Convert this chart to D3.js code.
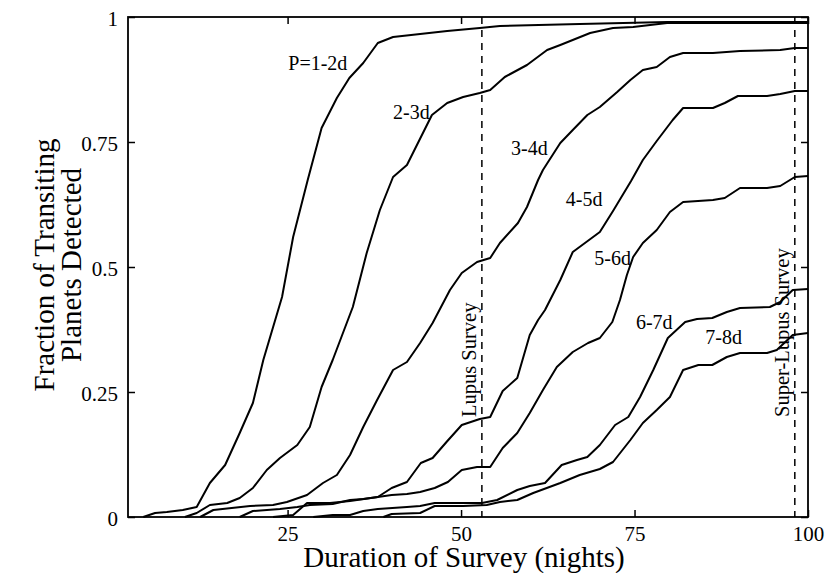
<!DOCTYPE html>
<html>
<head>
<meta charset="utf-8">
<script src="https://cdn.jsdelivr.net/npm/d3@7/dist/d3.min.js"></script>
<style>
body { margin: 0; background: #fff; }
svg text { font-family: "Liberation Serif", "Times New Roman", serif; fill: #000; }
</style>
</head>
<body>
<script>
// canvas and plot box (plotTop, not "top": that one is window.top)
var w = 830;
var h = 573;
var plotLeft = 128, plotRight = 808, plotTop = 17, plotBottom = 517;

// ---- data ----
var periodLabels = ["P=1-2d", "2-3d", "3-4d", "4-5d", "5-6d", "6-7d", "7-8d"];

var nights12 = [4.2, 5.9, 7.6, 9.9, 11.9, 13.8, 16.0, 18.1, 20.0, 21.5, 24.2, 25.8, 27.9, 29.9, 32.1, 33.9, 35.9, 38.0, 40.2, 44.1, 48.0, 52.7, 55.6, 67.1, 79.7, 100];
var frac12   = [0, 0.008, 0.010, 0.014, 0.020, 0.068, 0.104, 0.168, 0.228, 0.314, 0.440, 0.560, 0.674, 0.778, 0.838, 0.878, 0.908, 0.948, 0.960, 0.966, 0.972, 0.978, 0.982, 0.986, 0.990, 0.990];

var nights23 = [10.2, 11.9, 13.8, 16.3, 18.1, 20.0, 22.0, 23.9, 26.4, 28.2, 29.9, 31.5, 34.4, 36.4, 38.3, 40.2, 42.2, 45.8, 48.0, 50.3, 52.7, 54.2, 56.3, 59.5, 62.4, 64.3, 68.6, 71.9, 74.8, 79.7, 100];
var frac23   = [0, 0.008, 0.024, 0.028, 0.038, 0.058, 0.094, 0.118, 0.144, 0.180, 0.260, 0.314, 0.420, 0.528, 0.614, 0.680, 0.704, 0.804, 0.828, 0.840, 0.848, 0.854, 0.880, 0.904, 0.934, 0.944, 0.968, 0.978, 0.980, 0.988, 0.988];

var nights34 = [12.4, 14.3, 19.6, 22.9, 24.9, 27.8, 30.1, 32.1, 34.0, 35.9, 37.9, 40.2, 42.2, 44.1, 45.9, 48.4, 50.1, 52.3, 54.2, 55.6, 58.2, 59.5, 61.1, 61.8, 64.3, 66.1, 68.2, 70.0, 72.5, 74.4, 76.2, 78.2, 80.1, 82.0, 86.3, 90.2, 96.0, 98.1, 100];
var frac34   = [0, 0.014, 0.022, 0.024, 0.030, 0.044, 0.068, 0.084, 0.124, 0.180, 0.234, 0.294, 0.310, 0.348, 0.388, 0.454, 0.488, 0.510, 0.518, 0.548, 0.588, 0.620, 0.674, 0.694, 0.748, 0.774, 0.804, 0.820, 0.850, 0.874, 0.894, 0.900, 0.920, 0.928, 0.928, 0.932, 0.934, 0.938, 0.938];

var nights45 = [18.1, 20.0, 23.9, 26.4, 28.2, 31.5, 34.0, 35.9, 38.0, 40.0, 42.2, 44.2, 45.9, 47.9, 50.1, 52.7, 54.2, 56.0, 58.1, 59.9, 61.1, 62.1, 64.3, 66.1, 70.0, 71.9, 74.5, 76.2, 78.2, 80.5, 82.0, 86.3, 88.0, 89.9, 94.1, 96.0, 98.1, 100];
var frac45   = [0, 0.012, 0.016, 0.020, 0.024, 0.026, 0.034, 0.036, 0.040, 0.058, 0.070, 0.108, 0.118, 0.150, 0.184, 0.196, 0.200, 0.252, 0.278, 0.364, 0.394, 0.414, 0.474, 0.530, 0.570, 0.612, 0.672, 0.714, 0.752, 0.794, 0.818, 0.818, 0.828, 0.842, 0.842, 0.846, 0.852, 0.852];

var nights56 = [22.9, 25.8, 27.8, 31.1, 34.0, 38.0, 40.0, 42.2, 44.1, 46.2, 48.1, 50.1, 52.3, 54.2, 56.0, 58.1, 59.9, 61.8, 63.8, 66.1, 68.3, 70.0, 71.8, 72.9, 73.9, 74.8, 76.2, 78.2, 80.1, 82.0, 86.3, 88.0, 90.2, 94.1, 96.0, 98.1, 100];
var frac56   = [0, 0.004, 0.028, 0.028, 0.032, 0.040, 0.044, 0.046, 0.050, 0.058, 0.070, 0.094, 0.100, 0.100, 0.138, 0.168, 0.208, 0.254, 0.300, 0.330, 0.348, 0.358, 0.390, 0.434, 0.484, 0.520, 0.548, 0.574, 0.610, 0.630, 0.634, 0.638, 0.658, 0.658, 0.662, 0.680, 0.682];

var nights67 = [28.7, 31.5, 34.0, 35.9, 38.0, 42.2, 44.1, 46.2, 53.0, 55.2, 58.1, 59.9, 62.1, 64.5, 66.7, 68.2, 70.0, 72.2, 74.1, 75.8, 77.7, 79.8, 82.3, 84.0, 86.2, 88.3, 90.2, 94.5, 96.0, 97.8, 100];
var frac67   = [0, 0.004, 0.004, 0.012, 0.016, 0.020, 0.022, 0.028, 0.028, 0.034, 0.054, 0.062, 0.068, 0.104, 0.114, 0.120, 0.144, 0.184, 0.200, 0.240, 0.294, 0.358, 0.390, 0.396, 0.398, 0.410, 0.418, 0.420, 0.430, 0.454, 0.456];

var nights78 = [38.8, 40.0, 44.1, 46.2, 50.3, 53.7, 55.6, 58.1, 60.4, 64.3, 67.1, 70.0, 71.9, 74.4, 76.2, 78.2, 80.1, 82.0, 84.2, 86.2, 88.3, 90.2, 94.1, 95.5, 97.8, 100];
var frac78   = [0, 0.006, 0.008, 0.022, 0.022, 0.024, 0.030, 0.034, 0.048, 0.068, 0.084, 0.096, 0.110, 0.154, 0.188, 0.214, 0.240, 0.294, 0.304, 0.304, 0.320, 0.328, 0.328, 0.334, 0.364, 0.368];

var xTicks = [25, 50, 75, 100];
var yTicks = [0, 0.25, 0.5, 0.75, 1];
var yTickLabels = ["0", "0.25", "0.5", "0.75", "1"];

var surveyNames = ["Lupus Survey", "Super-Lupus Survey"];
var surveyNights = [53.0, 98.1];

// where the period labels sit (data units, left end of baseline)
var labelNights = [25.1, 40.2, 57.2, 65.1, 69.2, 75.2, 85.2];
var labelFrac = [0.894, 0.796, 0.724, 0.622, 0.504, 0.376, 0.346];

var seriesNights = [nights12, nights23, nights34, nights45, nights56, nights67, nights78];
var seriesFrac = [frac12, frac23, frac34, frac45, frac56, frac67, frac78];

var series = periodLabels.map(function(name, i) {
    return {
        name: name,
        points: seriesNights[i].map(function(n, j) { return [n, seriesFrac[i][j]]; })
    };
});

// scales
var x = d3.scaleLinear().domain([2, 100]).range([plotLeft, plotRight]);
var y = d3.scaleLinear().domain([0, 1]).range([plotBottom, plotTop]);

var svg = d3.select("body")
            .append("svg")
            .attr("width", w)
            .attr("height", h);

// axes, ticks point inward on all four sides
var bottomAxis = d3.axisBottom(x).tickValues(xTicks).tickSizeInner(-7).tickSizeOuter(0).tickPadding(9);
var topAxis = d3.axisTop(x).tickValues(xTicks).tickSizeInner(-7).tickSizeOuter(0).tickFormat("");
var leftAxis = d3.axisLeft(y).tickValues(yTicks).tickSizeInner(-7).tickSizeOuter(0).tickPadding(10)
                 .tickFormat(function(d, i) { return yTickLabels[i]; });
var rightAxis = d3.axisRight(y).tickValues(yTicks).tickSizeInner(-7).tickSizeOuter(0).tickFormat("");

var gx = svg.append("g").attr("transform", "translate(0," + plotBottom + ")").call(bottomAxis);
var gt = svg.append("g").attr("transform", "translate(0," + plotTop + ")").call(topAxis);
var gy = svg.append("g").attr("transform", "translate(" + plotLeft + ",0)").call(leftAxis);
var gr = svg.append("g").attr("transform", "translate(" + plotRight + ",0)").call(rightAxis);

[gx, gt, gy, gr].forEach(function(g) {
    g.select(".domain").remove();
    g.selectAll(".tick line").attr("stroke", "#000").attr("stroke-width", 1.5);
    g.selectAll(".tick text").style("font-size", "21px");
});
gy.selectAll(".tick text").attr("dy", "0.4em");

// frame
svg.append("rect")
   .attr("x", plotLeft)
   .attr("y", plotTop)
   .attr("width", plotRight - plotLeft)
   .attr("height", plotBottom - plotTop)
   .attr("fill", "none")
   .attr("stroke", "#000")
   .attr("stroke-width", 1.8);

// survey markers
svg.selectAll("line.survey")
   .data(surveyNights)
   .enter()
   .append("line")
   .attr("class", "survey")
   .attr("x1", function(d) { return x(d); })
   .attr("x2", function(d) { return x(d); })
   .attr("y1", y(1))
   .attr("y2", y(0))
   .attr("stroke", "#000")
   .attr("stroke-width", 1.5)
   .attr("stroke-dasharray", "7,6");

svg.selectAll("text.survey")
   .data(surveyNames)
   .enter()
   .append("text")
   .attr("class", "survey")
   .attr("transform", function(d, i) {
       return "translate(" + (x(surveyNights[i]) - 6) + "," + y(0.2) + ") rotate(-90)";
   })
   .style("font-size", "20.5px")
   .text(function(d) { return d; });

// curves
var line = d3.line()
             .x(function(d) { return x(d[0]); })
             .y(function(d) { return y(d[1]); });

svg.selectAll("path.curve")
   .data(series)
   .enter()
   .append("path")
   .attr("class", "curve")
   .attr("d", function(d) { return line(d.points); })
   .attr("fill", "none")
   .attr("stroke", "#000")
   .attr("stroke-width", 2)
   .attr("stroke-linejoin", "round");

// period labels
svg.selectAll("text.period")
   .data(series)
   .enter()
   .append("text")
   .attr("class", "period")
   .attr("x", function(d, i) { return x(labelNights[i]); })
   .attr("y", function(d, i) { return y(labelFrac[i]); })
   .style("font-size", "20px")
   .text(function(d) { return d.name; });

// axis titles
svg.append("text")
   .attr("x", 464)
   .attr("y", 567)
   .attr("text-anchor", "middle")
   .style("font-size", "29px")
   .text("Duration of Survey (nights)");

var ytitle = svg.append("text")
   .attr("transform", "translate(54," + 265 + ") rotate(-90)")
   .attr("text-anchor", "middle")
   .style("font-size", "29px");
ytitle.append("tspan").attr("x", 0).attr("dy", 0).text("Fraction of Transiting");
ytitle.append("tspan").attr("x", 0).attr("dy", 27).text("Planets Detected");
</script>
</body>
</html>
